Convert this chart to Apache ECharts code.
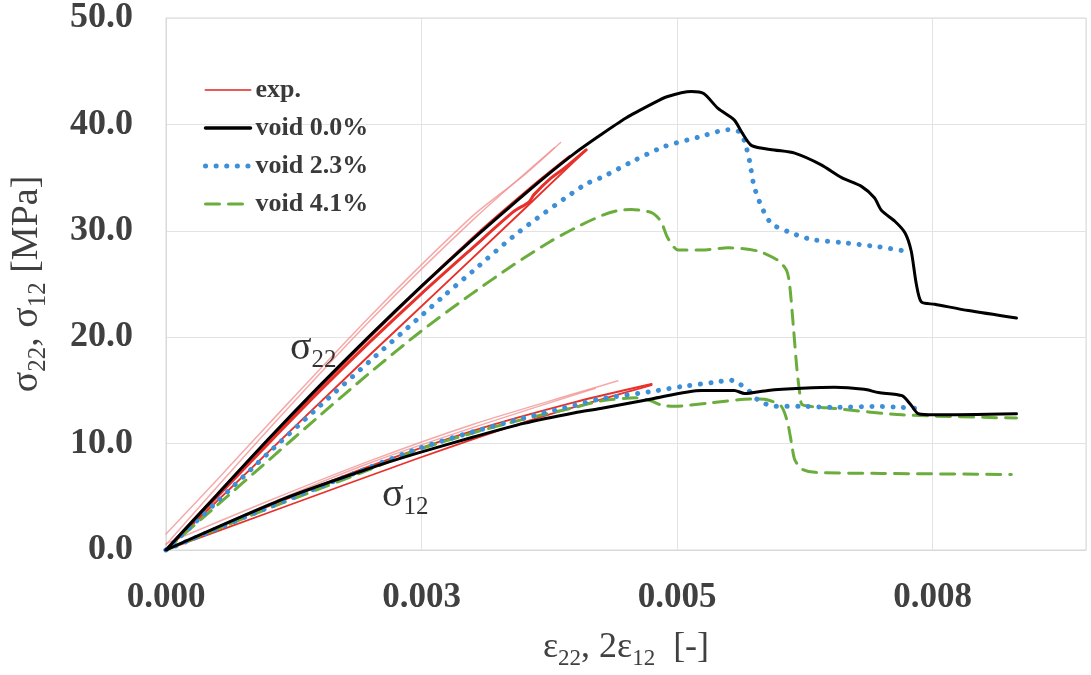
<!DOCTYPE html>
<html>
<head>
<meta charset="utf-8">
<script src="https://cdn.jsdelivr.net/npm/echarts@6/dist/echarts.min.js"></script>
<style>
html,body{margin:0;padding:0;background:#fff;}
#chart{width:1091px;height:675px;}
</style>
</head>
<body>
<div id="chart"></div>
<script>
// ---- tick labels ----
const xTickLabels = ['0.000', '0.003', '0.005', '0.008'];
const yTickLabels = ['0.0', '10.0', '20.0', '30.0', '40.0', '50.0'];
const legendNames = ['exp.', 'void 0.0%', 'void 2.3%', 'void 4.1%'];

// ---- experimental curves (strain, stress MPa) ----
const exp22a = [[0,0],[0.0005,5.0],[0.001,10.0],[0.0015,14.9],[0.002,19.6],[0.0025,24.1],[0.003,28.4],[0.0034,31.8],[0.00355,32.7],[0.0036,33.4],[0.00376,34.9],[0.0039,35.9],[0.00411,37.6]];
const exp22b = [[0,0],[0.001,9.2],[0.002,18.4],[0.00262,24.0],[0.0035,32.0],[0.00411,37.6]];
const exp22c = [[0,0],[0.0005,5.2],[0.001,10.3],[0.002,20.1],[0.003,29.3],[0.0036,34.3],[0.00395,37.0]];
const exp22d = [[0,1.5],[0.0005,6.6],[0.001,11.8],[0.002,22.0],[0.003,31.4],[0.0035,35.2],[0.00386,38.3]];
const exp22e = [[0,0.5],[0.001,11.3],[0.002,21.6],[0.003,31.0],[0.0038,37.8]];
const exp12a = [[0,0],[0.001,3.5],[0.00246,8.6],[0.0035,12.0],[0.0042,14.0],[0.00475,15.5]];
const exp12b = [[0,0],[0.001,4.1],[0.002,7.9],[0.003,11.2],[0.004,13.9],[0.00475,15.6]];
const exp12c = [[0,0.6],[0.001,4.6],[0.002,8.4],[0.003,11.8],[0.004,14.7],[0.00442,15.9]];
const exp12d = [[0,0],[0.001,4.3],[0.002,8.2],[0.003,11.5],[0.0042,15.2]];

// ---- simulated curves ----
const void0_22 = [[0,0],[0.0005,5.2],[0.001,10.4],[0.0015,15.4],[0.002,20.2],[0.0025,24.8],[0.003,29.2],[0.00337,32.3],[0.0037,35.0],[0.004,37.3],[0.00425,39.0],[0.0045,40.6],[0.00475,41.9],[0.0049,42.6],[0.00514,43.1],[0.00526,42.9],[0.0054,41.5],[0.00556,40.4],[0.00563,39.3],[0.00573,38.0],[0.00595,37.6],[0.00615,37.3],[0.00641,36.2],[0.00661,35.0],[0.0068,34.2],[0.00693,33.1],[0.007,31.9],[0.00713,30.9],[0.00723,29.8],[0.00729,28.1],[0.00734,25.0],[0.00739,23.3],[0.00752,23.1],[0.00785,22.5],[0.00832,21.8]];
const void0_12 = [[0,0],[0.00115,4.8],[0.002,7.7],[0.00246,9.1],[0.003,10.6],[0.0035,11.9],[0.004,12.9],[0.00425,13.3],[0.00475,14.2],[0.00524,15.0],[0.00556,15.0],[0.00566,14.7],[0.00589,15.0],[0.00622,15.2],[0.00654,15.3],[0.00683,15.1],[0.00697,14.8],[0.0072,14.5],[0.00729,13.6],[0.00736,12.8],[0.00752,12.7],[0.00832,12.8]];
const void23_22 = [[0,0],[0.0005,4.55],[0.001,9.1],[0.0015,13.5],[0.002,17.8],[0.00246,21.7],[0.00272,23.9],[0.003,26.2],[0.00344,29.8],[0.00409,34.3],[0.00428,35.1],[0.00458,36.6],[0.00487,37.9],[0.00521,38.8],[0.0055,39.5],[0.00561,39.3],[0.00566,38.4],[0.00571,36.5],[0.00575,34.3],[0.00582,32.4],[0.00592,30.7],[0.00609,29.9],[0.00631,29.2],[0.00661,28.9],[0.00697,28.5],[0.00729,28.0]];
const void23_12 = [[0,0],[0.001,4.0],[0.002,7.8],[0.00246,9.5],[0.003,11.1],[0.0035,12.4],[0.004,13.6],[0.00425,14.2],[0.00475,14.9],[0.00507,15.4],[0.0054,15.8],[0.00551,16.0],[0.00561,15.6],[0.0057,15.0],[0.00575,14.4],[0.00585,13.8],[0.00595,13.5],[0.00622,13.5],[0.00654,13.4],[0.00693,13.5],[0.0072,13.4],[0.00736,13.3]];
const void41_22 = [[0,0],[0.0005,4.2],[0.001,8.4],[0.0015,12.6],[0.002,16.7],[0.0025,20.6],[0.00298,24.0],[0.0034,26.8],[0.00376,29.0],[0.00405,30.5],[0.00428,31.5],[0.00442,31.9],[0.00455,32.0],[0.00475,31.7],[0.00484,30.9],[0.00491,29.3],[0.00501,28.2],[0.00524,28.2],[0.0055,28.4],[0.00579,28.1],[0.00599,27.2],[0.00607,26.3],[0.0061,25.0],[0.00614,20.7],[0.00617,17.2],[0.0062,14.7],[0.00622,13.7],[0.0063,13.5],[0.00654,13.3],[0.0072,12.7],[0.00832,12.4]];
const void41_12 = [[0,0],[0.001,3.9],[0.002,7.6],[0.00246,9.4],[0.003,11.0],[0.0035,12.3],[0.004,13.4],[0.00425,14.0],[0.0046,14.3],[0.00475,14.0],[0.00485,13.6],[0.00497,13.5],[0.0053,13.8],[0.00573,14.2],[0.00589,14.1],[0.00602,13.5],[0.00608,12.0],[0.00612,10.0],[0.00615,8.5],[0.00622,7.6],[0.00635,7.3],[0.007,7.2],[0.00827,7.1]];

// ---- annotations ----
const annotations = [[0.00144, 19.1, 's22'], [0.00234, 5.3, 's12']];

const FONT = "'Liberation Serif','Times New Roman',serif";
const RED = '#e8302a';
const PINK = 'rgba(242,140,140,0.75)';
const BLACK = '#000000';
const BLUE = '#3d8fd8';
const GREEN = '#6aad3c';
const DOT = [0.1, 10.5];
const DASH = [14, 9];

function line(name, data, color, width, type, z) {
  return {
    name: name, type: 'line', data: data, symbol: 'none', silent: true,
    smooth: 0.25, z: z || 2,
    lineStyle: { color: color, width: width, type: type || 'solid', cap: 'round', join: 'round' },
    itemStyle: { color: color }
  };
}

const series = [
  line(legendNames[0], exp22b, RED, 2, 'solid', 2),
  line(legendNames[0], exp22d, PINK, 1.5, 'solid', 1),
  line(legendNames[0], exp22e, PINK, 1.5, 'solid', 1),
  line(legendNames[0], exp22a, RED, 3, 'solid', 2),
  line(legendNames[0], exp22c, RED, 3, 'solid', 2),
  line(legendNames[0], exp12c, PINK, 1.5, 'solid', 1),
  line(legendNames[0], exp12d, PINK, 1.5, 'solid', 1),
  line(legendNames[0], exp12a, RED, 1.8, 'solid', 2),
  line(legendNames[0], exp12b, RED, 2, 'solid', 2),
  line(legendNames[1], void0_22, BLACK, 3, 'solid', 5),
  line(legendNames[1], void0_12, BLACK, 3, 'solid', 5),
  line(legendNames[2], void23_22, BLUE, 5, DOT, 4),
  line(legendNames[2], void23_12, BLUE, 5, DOT, 4),
  line(legendNames[3], void41_22, GREEN, 3, DASH, 3),
  line(legendNames[3], void41_12, GREEN, 3, DASH, 3),
  {
    type: 'scatter', silent: true, symbolSize: 0, z: 6,
    data: annotations.map(a => ({ value: [a[0], a[1]], lbl: a[2] })),
    label: {
      show: true, position: 'inside',
      formatter: p => p.data.lbl === 's22' ? '{g|σ}{s|22}' : '{g|σ}{s|12}',
      rich: {
        g: { fontFamily: FONT, fontSize: 40, color: '#000', lineHeight: 44, verticalAlign: 'bottom' },
        s: { fontFamily: FONT, fontSize: 25, color: '#000', lineHeight: 22, verticalAlign: 'bottom', padding: [0, 0, -4, 0] }
      }
    }
  }
];

const legendStyles = [
  { color: '#e85a55', width: 2, type: 'solid' },
  { color: BLACK, width: 3.5, type: 'solid' },
  { color: BLUE, width: 5, type: DOT },
  { color: GREEN, width: 3, type: DASH }
];

const chart = echarts.init(document.getElementById('chart'), null, { renderer: 'canvas' });
chart.setOption({
  animation: false,
  backgroundColor: '#ffffff',
  grid: { left: 166, right: 5, top: 18, bottom: 121, show: true, borderColor: '#d9d9d9', borderWidth: 1, containLabel: false },
  legend: {
    data: legendNames.map((n, i) => ({ name: n, lineStyle: Object.assign({ cap: 'round' }, legendStyles[i]) })),
    orient: 'vertical', left: 198, top: 70,
    itemWidth: 45, itemHeight: 14, itemGap: 8,
    itemStyle: { opacity: 0 },
    textStyle: { fontFamily: FONT, fontSize: 26, fontWeight: 'bold', color: '#3a3a3a', lineHeight: 30 },
    selectedMode: false
  },
  xAxis: {
    type: 'value', min: 0, max: 0.009, interval: 0.0025,
    axisLine: { show: true, lineStyle: { color: '#d9d9d9' } },
    axisTick: { show: false },
    splitLine: { show: true, lineStyle: { color: '#e3e3e3', width: 1 } },
    axisLabel: {
      margin: 30, fontFamily: FONT, fontSize: 35, fontWeight: 'bold', color: '#404040',
      showMaxLabel: false,
      formatter: v => {
        const i = Math.round(v / 0.0025);
        return Math.abs(v - i * 0.0025) < 1e-9 && xTickLabels[i] !== undefined ? xTickLabels[i] : '';
      }
    },
    name: '{a|ε}{s|22}{a|, 2ε}{s|12}{a|  [-]}',
    nameLocation: 'middle', nameGap: 76,
    nameTextStyle: {
      rich: {
        a: { fontFamily: FONT, fontSize: 36, color: '#404040', lineHeight: 40, verticalAlign: 'bottom' },
        s: { fontFamily: FONT, fontSize: 23, color: '#404040', lineHeight: 22, verticalAlign: 'bottom', padding: [0, 0, -4, 0] }
      }
    }
  },
  yAxis: {
    type: 'value', min: 0, max: 50, interval: 10,
    axisLine: { show: true, lineStyle: { color: '#d9d9d9' } },
    axisTick: { show: false },
    splitLine: { show: true, lineStyle: { color: '#e3e3e3', width: 1 } },
    axisLabel: {
      margin: 33, fontFamily: FONT, fontSize: 36, fontWeight: 'bold', color: '#404040',
      formatter: v => yTickLabels[Math.round(v / 10)]
    },
    name: '{a|σ}{s|22}{a|, σ}{s|12}{a| [MPa]}',
    nameLocation: 'middle', nameGap: 120, nameRotate: 90,
    nameTextStyle: {
      rich: {
        a: { fontFamily: FONT, fontSize: 38, color: '#404040', lineHeight: 42, verticalAlign: 'bottom' },
        s: { fontFamily: FONT, fontSize: 25, color: '#404040', lineHeight: 24, verticalAlign: 'bottom', padding: [0, 0, -5, 0] }
      }
    }
  },
  series: series
});
</script>
</body>
</html>
